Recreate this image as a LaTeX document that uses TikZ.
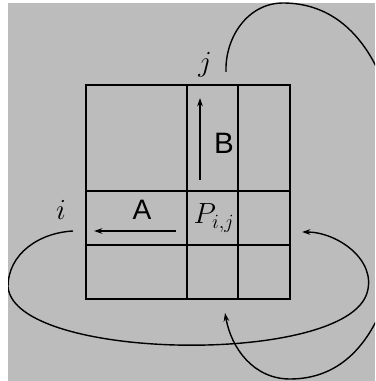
\documentclass[tikz,border=0pt]{standalone}
\usepackage{amsmath,amssymb}
\usepackage{fontspec}
\usepackage{tikz}
\usetikzlibrary{arrows.meta,positioning}
\newfontfamily\labelfont{Liberation Sans}
\definecolor{panel}{RGB}{188,188,188}

\begin{document}
\begin{tikzpicture}[x=0.025cm, y=0.025cm,
    gridline/.style={line width=1.4pt},
    flow/.style={line width=1.1pt, -{Stealth[length=6pt,width=4pt]}},
    wrap/.style={line width=1pt},
    letter/.style={font=\labelfont\fontsize{20}{24}\selectfont},
    idx/.style={font=\fontsize{20}{24}\selectfont}]
  \useasboundingbox (0,0) rectangle (375,381);
  \fill[panel] (8,0) rectangle (375,378);
  \clip (8,0) rectangle (375,378);

  % the matrix
  \draw[gridline] (86,82) rectangle (290,296);
  \draw[gridline] (187,82) -- (187,296);
  \draw[gridline] (238,82) -- (238,296);
  \draw[gridline] (86,190) -- (290,190);
  \draw[gridline] (86,136) -- (290,136);

  % row and column sweeps
  \coordinate (bLow) at (200,201);
  \coordinate (bHigh) at (200,283);
  \coordinate (aRight) at (176,150);
  \coordinate (aLeft) at (94,150);
  \draw[flow] (bLow) -- (bHigh);
  \draw[flow] (aRight) -- (aLeft);

  \node[letter, font=\labelfont\fontsize{21}{24}\selectfont] (labB) at (224,238) {B};
  \node[letter] (labA) at (142,171) {A};
  \node[idx] (cell) at (214,163) {$P_{i,j}$};
  \node[idx] (labI) at (61,171) {$i$};
  \node[idx] (labJ) at (205,316) {$j$};

  % wrap-around of index i
  \coordinate (iStart) at (73,150);
  \coordinate (iEnd) at (302,149);
  \draw[wrap, -{Stealth[length=6pt,width=4pt]}] (iStart) to[out=183,in=90] (8,94)
    .. controls (15,20) and (345,15) .. (367,88)
    to[out=73,in=0] (iEnd);

  % wrap-around of index j
  \coordinate (jStart) at (226,309);
  \coordinate (jEnd) at (225,68);
  \draw[wrap, -{Stealth[length=6pt,width=4pt]}] (jStart) to[out=92,in=180] (283,378)
    to[out=0,in=90] (402,190) to[out=-90,in=0] (290,2)
    to[out=180,in=-80] (jEnd);
\end{tikzpicture}
\end{document}
